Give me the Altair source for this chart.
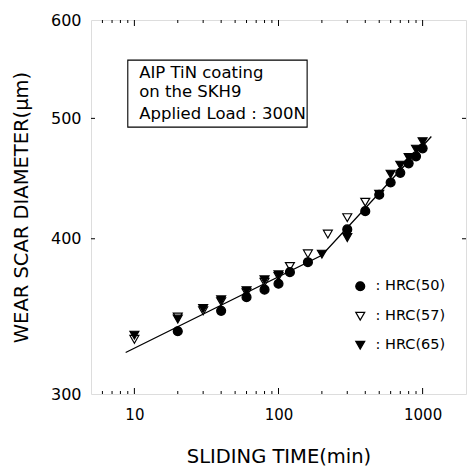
import altair as alt
import pandas as pd

# ---- data ----
series_names = ["HRC(50)", "HRC(57)", "HRC(65)"]
hrc50_t = [20, 40, 60, 80, 100, 120, 160, 300, 400, 500, 600, 700, 800, 900, 1000]
hrc50_d = [337, 350, 359, 364, 368, 376, 383, 407, 421, 434, 444, 452, 460, 466, 473]
hrc57_t = [10, 20, 30, 40, 60, 80, 100, 120, 160, 220, 300, 400]
hrc57_d = [332, 346, 350, 356, 362, 369, 373, 380, 389, 403.5, 416, 428]
hrc65_t = [10, 20, 30, 40, 60, 80, 100, 200, 300, 500, 600, 700, 800, 900, 1000]
hrc65_d = [334.6, 344.7, 351.5, 357.2, 363.3, 370.7, 374.2, 388.8, 400.9, 434.5,
           450.9, 458.5, 465, 472.3, 478.9]
fit_t = [8.7, 200, 1150]
fit_d = [324, 388, 483.5]

x_major = [10, 100, 1000]
x_minor = [6, 7, 8, 9, 20, 30, 40, 50, 60, 70, 80, 90,
           200, 300, 400, 500, 600, 700, 800, 900]
y_ticks = [300, 400, 500, 600]
y_inner = [400, 500]

note_lines = ["AIP TiN coating", "on the SKH9", "Applied Load : 300N"]
note_t = [10.8, 10.8, 10.8]
note_d = [543.5, 525.4, 504.4]
box_t = [9.0, 158]
box_d = [492, 557]

W, H = 375, 374
FONT = "DejaVu Sans"

rows = []
for t, d in zip(hrc57_t, hrc57_d):
    rows.append({"t": t, "d": d, "s": series_names[1]})
for t, d in zip(hrc65_t, hrc65_d):
    rows.append({"t": t, "d": d, "s": series_names[2]})
for t, d in zip(hrc50_t, hrc50_d):
    rows.append({"t": t, "d": d, "s": series_names[0]})
pts = pd.DataFrame(rows)
fit = pd.DataFrame({"t": fit_t, "d": fit_d})
notes = pd.DataFrame({"t": note_t, "d": note_d, "txt": note_lines})
box = pd.DataFrame({"t": [box_t[0]], "t2": [box_t[1]], "d": [box_d[0]], "d2": [box_d[1]]})
xmaj = pd.DataFrame({"t": x_major})
xmin = pd.DataFrame({"t": x_minor})
yin = pd.DataFrame({"d": y_inner})

xscale = alt.Scale(type="log", domain=[5, 2000], nice=False)
yscale = alt.Scale(type="log", domain=[300, 600], nice=False)
xaxis = alt.Axis(values=x_major, format="d", ticks=False, tickSize=0, domain=False,
                 grid=False, labelFontSize=15, labelFont=FONT, labelPadding=13,
                 labelColor="black", title="SLIDING TIME(min)", titleFont=FONT,
                 titleFontSize=19.5, titleFontWeight="normal", titleColor="black",
                 titleY=62, titleBaseline="middle")
yaxis = alt.Axis(values=y_ticks, format="d", ticks=False, tickSize=0, domain=False,
                 grid=False, labelFontSize=16, labelFont=FONT, labelPadding=10,
                 labelColor="black", title="WEAR SCAR DIAMETER(\u03bcm)", titleFont=FONT,
                 titleFontSize=19.5, titleFontWeight="normal", titleColor="black",
                 titleX=-70, titleBaseline="middle")

X = alt.X("t:Q", scale=xscale, axis=xaxis)
Y = alt.Y("d:Q", scale=yscale, axis=yaxis)


def leg():
    return alt.Legend(title=None, orient="none", legendX=262, legendY=259,
                      labelExpr="': ' + datum.label", labelFont=FONT,
                      labelFontSize=14.5, labelColor="black", labelOffset=8,
                      rowPadding=14, symbolSize=80, symbolStrokeWidth=1.2, padding=0)


line = alt.Chart(fit).mark_line(color="black", strokeWidth=1.3).encode(x=X, y=Y)

points = alt.Chart(pts).mark_point(filled=True, strokeWidth=1.2, size=80, opacity=1).encode(
    x=X, y=Y,
    shape=alt.Shape("s:N", scale=alt.Scale(domain=series_names,
                                           range=["circle", "triangle-down", "triangle-down"]),
                    legend=leg()),
    fill=alt.Fill("s:N", scale=alt.Scale(domain=series_names, range=["black", "white", "black"]),
                  legend=leg()),
    stroke=alt.Stroke("s:N", scale=alt.Scale(domain=series_names, range=["black", "black", "black"]),
                      legend=leg()),
)

rect = alt.Chart(box).mark_rect(fill="white", stroke="black", strokeWidth=1.1).encode(
    x=X, x2="t2:Q", y=Y, y2="d2:Q")

text = alt.Chart(notes).mark_text(align="left", baseline="middle", font=FONT,
                                  fontSize=16.5, color="black").encode(x=X, y=Y, text="txt:N")

tick_b_major = alt.Chart(xmaj).mark_rule(color="black", strokeWidth=1).encode(
    x=X, y=alt.value(H), y2=alt.value(H - 6))
tick_b_minor = alt.Chart(xmin).mark_rule(color="black", strokeWidth=1).encode(
    x=X, y=alt.value(H), y2=alt.value(H - 3))
tick_t_major = alt.Chart(xmaj).mark_rule(color="black", strokeWidth=1).encode(
    x=X, y=alt.value(0), y2=alt.value(6))
tick_t_minor = alt.Chart(xmin).mark_rule(color="black", strokeWidth=1).encode(
    x=X, y=alt.value(0), y2=alt.value(3))
tick_l = alt.Chart(yin).mark_rule(color="black", strokeWidth=1).encode(
    y=Y, x=alt.value(0), x2=alt.value(4))
tick_r = alt.Chart(yin).mark_rule(color="black", strokeWidth=1).encode(
    y=Y, x=alt.value(W), x2=alt.value(W - 4))

chart = alt.layer(
    tick_b_major, tick_b_minor, tick_t_major, tick_t_minor, tick_l, tick_r,
    rect, text, line, points
).properties(
    width=W, height=H,
    autosize=alt.AutoSizeParams(type="none"),
    padding={"left": 83, "top": 12, "right": 2, "bottom": 79},
).configure_view(stroke="black", strokeWidth=1.2).configure(background="white")

chart.save("out.html", embed_options={"renderer": "svg", "actions": False})
